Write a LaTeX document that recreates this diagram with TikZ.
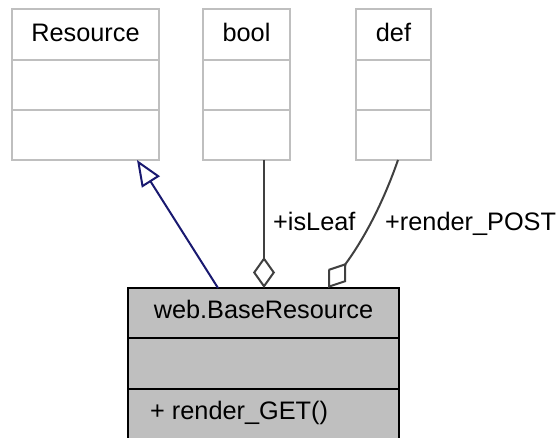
\documentclass[tikz,border=0pt]{standalone}
\usepackage{fontspec}
\setmainfont{Liberation Sans}
\usetikzlibrary{arrows.meta}
\definecolor{boxgray}{HTML}{BFBFBF}
\definecolor{edgegray}{HTML}{404040}
\definecolor{navy}{HTML}{191970}
\begin{document}
\begin{tikzpicture}[x=1pt,y=-1pt,
  graybox/.style={draw=boxgray,line width=2pt,fill=white,rectangle,inner sep=0pt},
  mainbox/.style={draw=black,line width=2pt,fill=boxgray,rectangle,inner sep=0pt},
  lbl/.style={font=\fontsize{25.3}{28}\selectfont,inner sep=0pt,anchor=base},
  lblw/.style={font=\fontsize{25.3}{28}\selectfont,inner sep=0pt,anchor=base west},
  inh/.style={draw=navy,line width=2pt,-{Triangle[open,length=26pt,width=21pt,line width=2pt]}},
  agg/.style={draw=edgegray,line width=2pt,-{Diamond[open,length=31pt,width=22pt,line width=2pt]}}]
\useasboundingbox (0,0) rectangle (560,438);
% Resource
\node[graybox,minimum width=147pt,minimum height=151pt] (res) at (85.5,84.5) {};
\draw[boxgray,line width=2pt] (12,60) -- (159,60) (12,110) -- (159,110);
\node[lbl] (rest) at (85.5,42) {Resource};
% bool
\node[graybox,minimum width=87pt,minimum height=151pt] (boolb) at (246.5,84.5) {};
\draw[boxgray,line width=2pt] (203,60) -- (290,60) (203,110) -- (290,110);
\node[lbl] (boolt) at (246.5,42) {bool};
% def
\node[graybox,minimum width=75pt,minimum height=151pt] (defb) at (393.5,84.5) {};
\draw[boxgray,line width=2pt] (356,60) -- (431,60) (356,110) -- (431,110);
\node[lbl] (deft) at (393.5,42) {def};
% base
\node[mainbox,minimum width=271pt,minimum height=154pt] (base) at (263.5,365) {};
\draw[black,line width=2pt] (128,338) -- (399,338) (128,389) -- (399,389);
\node[lbl] (baset) at (263.5,319) {web.BaseResource};
\node[lblw] (baseop) at (150,420) {+ render\_GET()};
% connectors
\coordinate (inhs) at (218,288);
\coordinate (inhe) at (137,160);
\draw[inh] (inhs) -- (inhe);
\coordinate (bools) at (264,160);
\coordinate (boole) at (264,288);
\draw[agg] (bools) -- (boole);
\coordinate (defs) at (398,160);
\coordinate (defe) at (328,288);
\draw[agg] (defs) .. controls (384,200) and (366,236) .. (defe);
\node[lblw] (l1) at (273,231) {+isLeaf};
\node[lblw] (l2) at (385,231) {+render\_POST};
\end{tikzpicture}
\end{document}
